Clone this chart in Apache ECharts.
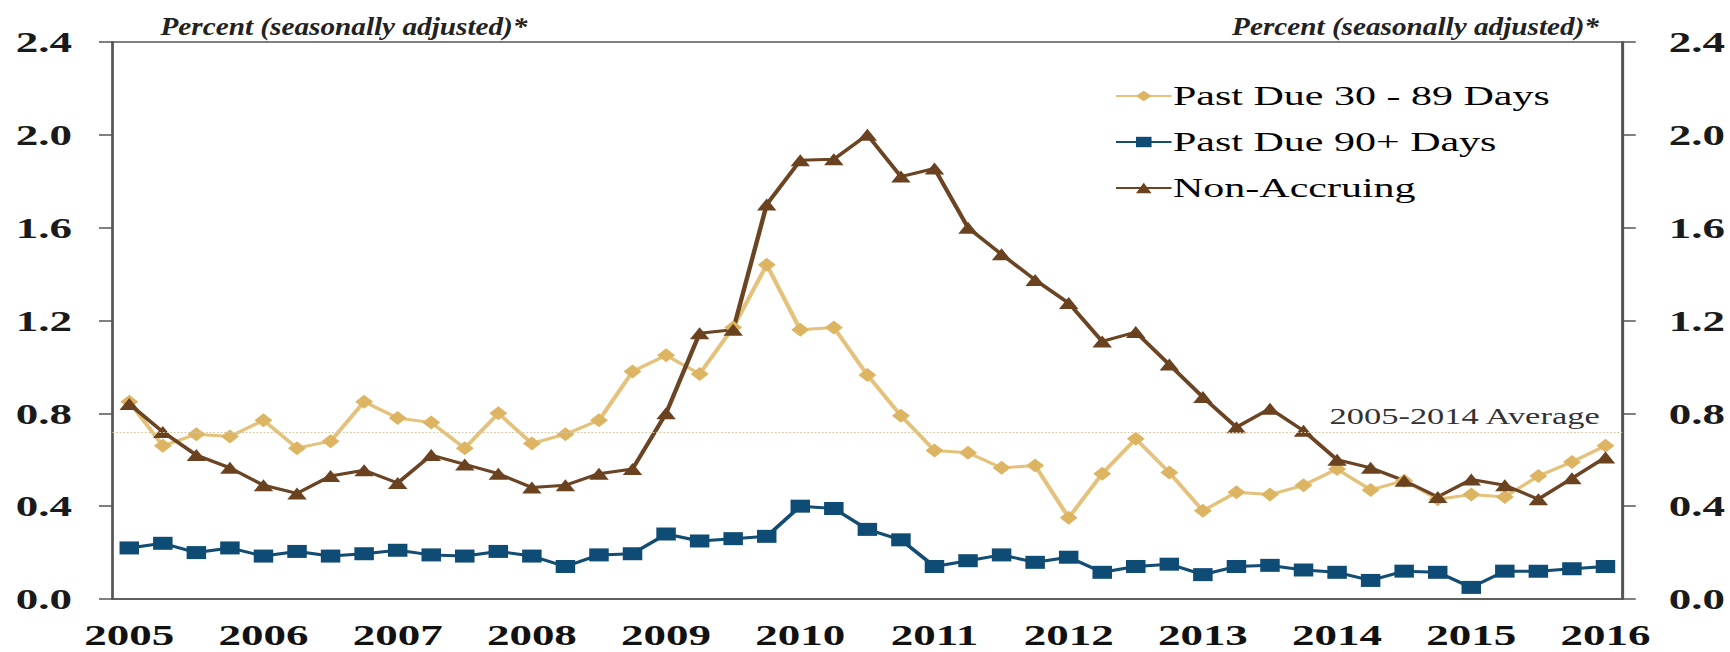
<!DOCTYPE html>
<html>
<head>
<meta charset="utf-8">
<script src="https://cdn.jsdelivr.net/npm/echarts@6/dist/echarts.min.js"></script>
<style>
  html, body { margin: 0; padding: 0; background: #fff; overflow: hidden; }
  /* the reference picture is stretched wide, so draw narrow and stretch it */
  #chart { width: 1153.33px; height: 652px; transform: scaleX(1.5); transform-origin: 0 0; }
</style>
</head>
<body>
<div id="chart"></div>
<script>
const categories = [
  '2005Q1', '2005Q2', '2005Q3', '2005Q4', '2006Q1', '2006Q2', '2006Q3', '2006Q4',
  '2007Q1', '2007Q2', '2007Q3', '2007Q4', '2008Q1', '2008Q2', '2008Q3', '2008Q4',
  '2009Q1', '2009Q2', '2009Q3', '2009Q4', '2010Q1', '2010Q2', '2010Q3', '2010Q4',
  '2011Q1', '2011Q2', '2011Q3', '2011Q4', '2012Q1', '2012Q2', '2012Q3', '2012Q4',
  '2013Q1', '2013Q2', '2013Q3', '2013Q4', '2014Q1', '2014Q2', '2014Q3', '2014Q4',
  '2015Q1', '2015Q2', '2015Q3', '2015Q4', '2016Q1',
]
const pastDue30 = [
  0.85, 0.66, 0.71, 0.70, 0.77, 0.65, 0.68, 0.85, 0.78, 0.76, 0.65, 0.80,
  0.67, 0.71, 0.77, 0.98, 1.05, 0.97, 1.17, 1.44, 1.16, 1.17, 0.965, 0.79,
  0.64, 0.63, 0.565, 0.575, 0.35, 0.54, 0.69, 0.545, 0.38, 0.46, 0.45, 0.49,
  0.56, 0.47, 0.51, 0.43, 0.45, 0.44, 0.53, 0.59, 0.66,
]
const pastDue90 = [
  0.22, 0.24, 0.20, 0.22, 0.185, 0.205, 0.185, 0.195, 0.21, 0.19, 0.185, 0.205,
  0.185, 0.14, 0.19, 0.195, 0.28, 0.25, 0.26, 0.27, 0.40, 0.39, 0.30, 0.255,
  0.14, 0.165, 0.19, 0.158, 0.18, 0.115, 0.14, 0.15, 0.105, 0.14, 0.145, 0.125,
  0.115, 0.08, 0.12, 0.115, 0.05, 0.12, 0.12, 0.13, 0.14,
]
const nonAccruing = [
  0.84, 0.72, 0.62, 0.565, 0.49, 0.455, 0.53, 0.555, 0.50, 0.62, 0.58, 0.54,
  0.48, 0.49, 0.54, 0.56, 0.80, 1.145, 1.16, 1.70, 1.89, 1.895, 2.00, 1.82,
  1.855, 1.60, 1.485, 1.375, 1.275, 1.11, 1.15, 1.01, 0.87, 0.74, 0.82, 0.725,
  0.60, 0.565, 0.51, 0.44, 0.515, 0.49, 0.43, 0.52, 0.61,
]
const average = 0.72
const seriesNames = ['Past Due 30 - 89 Days', 'Past Due 90+ Days', 'Non-Accruing']
const unitLabel = 'Percent (seasonally adjusted)*'
const averageLabel = '2005-2014 Average'

const serif = "'Liberation Serif', 'Times New Roman', serif"
const axisColor = '#555'
const titleFont = 'italic bold 25px ' + serif

const valueAxis = (position, margin) => ({
  type: 'value',
  position: position,
  min: 0,
  max: 2.4,
  interval: 0.4,
  axisLine: { show: true, lineStyle: { color: axisColor, width: 1.5 } },
  axisTick: { show: true, length: 9, lineStyle: { color: axisColor, width: 1.5 } },
  splitLine: { show: false },
  axisLabel: {
    margin: margin,
    color: '#1a1a1a',
    fontFamily: serif,
    fontWeight: 'bold',
    fontSize: 30,
    formatter: v => v.toFixed(1),
  },
})

const chart = echarts.init(document.getElementById('chart'), null, { renderer: 'svg' })
chart.setOption({
  animation: false,
  backgroundColor: '#fff',
  // the unit notes are set in a narrow italic in the original, so squeeze them a bit
  graphic: [
    {
      type: 'text',
      x: 107,
      y: 39,
      scaleX: 0.78,
      style: { text: unitLabel, font: titleFont, fill: '#222', align: 'left', verticalAlign: 'bottom' },
    },
    {
      type: 'text',
      x: 1066,
      y: 39,
      scaleX: 0.78,
      style: { text: unitLabel, font: titleFont, fill: '#222', align: 'right', verticalAlign: 'bottom' },
    },
  ],
  grid: {
    left: 75,
    right: 68,
    top: 42,
    bottom: 53,
    show: true,
    borderColor: axisColor,
    borderWidth: 1.5,
  },
  legend: {
    orient: 'vertical',
    left: 738,
    top: 77,
    itemWidth: 37,
    itemHeight: 13,
    itemGap: 18,
    data: seriesNames,
    textStyle: { fontFamily: serif, fontSize: 28, color: '#000', padding: [0, 0, 0, -4] },
  },
  xAxis: {
    type: 'category',
    data: categories,
    boundaryGap: true,
    axisLine: { lineStyle: { color: axisColor, width: 1.5 } },
    axisTick: { interval: 0, length: 8, lineStyle: { color: axisColor, width: 1.5 } },
    axisLabel: {
      interval: 3,
      margin: 21,
      color: '#111',
      fontFamily: serif,
      fontWeight: 'bold',
      fontSize: 30,
      formatter: v => v.slice(0, 4),
    },
  },
  yAxis: [valueAxis('left', 27), valueAxis('right', 31)],
  series: [
    {
      name: seriesNames[0],
      type: 'line',
      data: pastDue30,
      symbol: 'diamond',
      symbolSize: [12, 14],
      lineStyle: { color: '#E4C27C', width: 3 },
      itemStyle: { color: '#DDB562' },
      markLine: {
        silent: true,
        symbol: ['none', 'none'],
        data: [{ yAxis: average }],
        lineStyle: { color: '#D9C7A2', width: 1.2, type: 'dotted' },
        label: {
          show: true,
          position: 'insideEndTop',
          distance: [15, 4],
          formatter: averageLabel,
          fontFamily: serif,
          fontSize: 23,
          color: '#333',
        },
      },
    },
    {
      name: seriesNames[1],
      type: 'line',
      data: pastDue90,
      symbol: 'rect',
      symbolSize: [13, 13],
      lineStyle: { color: '#144D73', width: 3 },
      itemStyle: { color: '#0F4C75' },
    },
    {
      name: seriesNames[2],
      type: 'line',
      data: nonAccruing,
      symbol: 'triangle',
      symbolSize: [13, 12],
      lineStyle: { color: '#6B4423', width: 3 },
      itemStyle: { color: '#6B4220' },
    },
  ],
})
</script>
</body>
</html>
